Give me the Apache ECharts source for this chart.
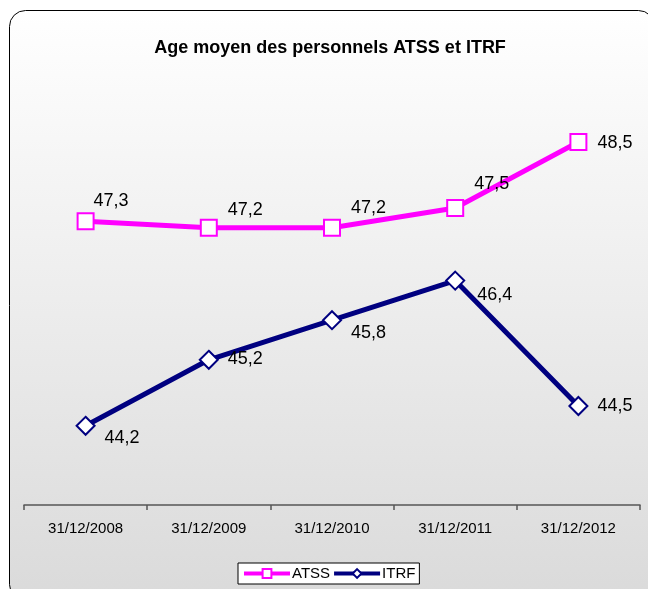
<!DOCTYPE html>
<html>
<head>
<meta charset="utf-8">
<script src="https://cdn.jsdelivr.net/npm/echarts@6/dist/echarts.min.js"></script>
<style>
  html, body { margin: 0; padding: 0; background: #fff; }
  #main { width: 648px; height: 589px; }
</style>
</head>
<body>
<div id="main"></div>
<script>
// donnees
var categories = ["31/12/2008", "31/12/2009", "31/12/2010", "31/12/2011", "31/12/2012"];
var atss = [47.3, 47.2, 47.2, 47.5, 48.5];
var itrf = [44.2, 45.2, 45.8, 46.4, 44.5];
// decalage des etiquettes [x, y]
var atssLabelOffset = [[-11, -20], [0, -18], [0, -20], [0, -24], [0, 1]];
var itrfLabelOffset = [[0, 12], [0, -1], [0, 13], [3, 14], [0, 0]];

function withLabels(values, offsets) {
  return values.map(function (v, i) {
    return { value: v, label: { offset: offsets[i] } };
  });
}

var myChart = echarts.init(document.getElementById("main"));
var option = {
  animation: false,
  graphic: [
    {
      type: "rect",
      z: -10,
      silent: true,
      shape: { x: 9.5, y: 10.5, width: 645, height: 590, r: 16 },
      style: {
        fill: new echarts.graphic.LinearGradient(0, 0, 0, 1, [
          { offset: 0, color: "#ffffff" },
          { offset: 1, color: "#dadada" }
        ]),
        stroke: "#000",
        lineWidth: 1
      }
    }
  ],
  title: {
    text: "Age moyen des personnels ATSS et ITRF",
    left: 325,
    textAlign: "center",
    top: 34,
    textStyle: {
      fontFamily: "Liberation Sans",
      fontSize: 18,
      fontWeight: "bold",
      color: "#000"
    }
  },
  legend: {
    left: 238,
    top: 563,
    padding: [3, 4, 3, 4],
    itemGap: 2,
    itemWidth: 46,
    itemHeight: 11,
    backgroundColor: "#fff",
    borderColor: "#000",
    borderWidth: 1,
    borderRadius: 0,
    lineStyle: { width: 4 },
    textStyle: {
      fontFamily: "Liberation Sans",
      fontSize: 15,
      color: "#000",
      padding: [0, 0, 0, -3]
    },
    data: ["ATSS", "ITRF"]
  },
  grid: {
    left: 24,
    right: 8,
    top: 109,
    bottom: 84
  },
  xAxis: {
    type: "category",
    data: categories,
    axisLine: { lineStyle: { color: "#555", width: 1.5 } },
    axisTick: { show: true, interval: 0, length: 5, lineStyle: { color: "#555", width: 1.5 } },
    axisLabel: {
      margin: 16,
      fontFamily: "Liberation Sans",
      fontSize: 15,
      color: "#000"
    }
  },
  yAxis: {
    type: "value",
    show: false,
    min: 43,
    max: 49,
    interval: 1,
    splitLine: { show: false }
  },
  series: [
    {
      name: "ATSS",
      type: "line",
      data: withLabels(atss, atssLabelOffset),
      symbol: "rect",
      symbolSize: 16,
      lineStyle: { color: "#ff00ff", width: 5 },
      itemStyle: { color: "#fff", borderColor: "#ff00ff", borderWidth: 2 },
      label: {
        show: true,
        position: "right",
        distance: 10,
        fontFamily: "Liberation Sans",
        fontSize: 18,
        color: "#000",
        formatter: function (p) { return String(p.value).replace(".", ","); }
      }
    },
    {
      name: "ITRF",
      type: "line",
      data: withLabels(itrf, itrfLabelOffset),
      symbol: "diamond",
      symbolSize: 18,
      lineStyle: { color: "#000080", width: 5 },
      itemStyle: { color: "#fff", borderColor: "#000080", borderWidth: 2 },
      label: {
        show: true,
        position: "right",
        distance: 9,
        fontFamily: "Liberation Sans",
        fontSize: 18,
        color: "#000",
        formatter: function (p) { return String(p.value).replace(".", ","); }
      }
    }
  ]
};
myChart.setOption(option);
</script>
</body>
</html>
